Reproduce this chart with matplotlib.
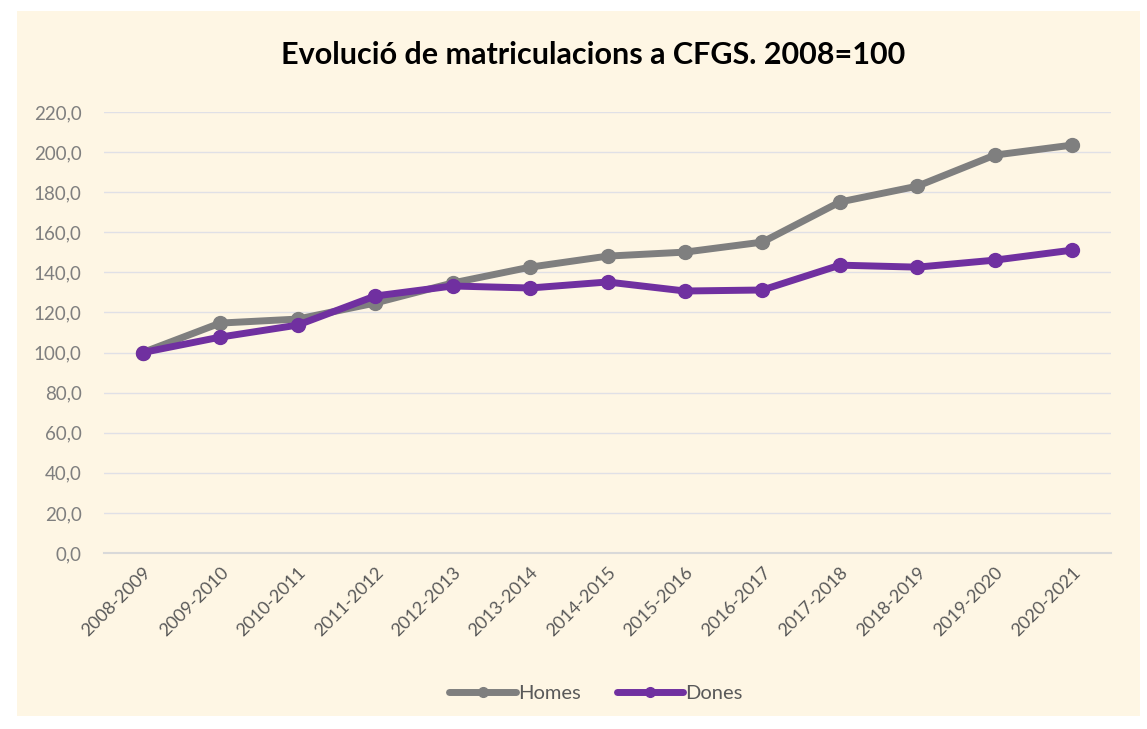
import matplotlib
matplotlib.use("Agg")
import matplotlib.pyplot as plt
from matplotlib.patches import Rectangle

# ---- data ----
CURSOS = ["2008-2009", "2009-2010", "2010-2011", "2011-2012", "2012-2013",
          "2013-2014", "2014-2015", "2015-2016", "2016-2017", "2017-2018",
          "2018-2019", "2019-2020", "2020-2021"]
HOMES = [100.0, 114.7, 116.7, 124.7, 134.7, 142.6, 148.1, 150.1, 155.1,
         175.1, 183.0, 198.5, 203.5]
DONES = [100.0, 107.7, 113.7, 128.2, 133.2, 132.2, 135.2, 130.7, 131.2,
         143.6, 142.6, 146.1, 151.1]
Y_TICKS = [0, 20, 40, 60, 80, 100, 120, 140, 160, 180, 200, 220]

# ---- palette ----
CREAM = "#fef6e4"
GREY_LINE = "#7f7f7f"
PURPLE = "#7030a0"
GRID = "#e0e0e6"
TEXT_DARK = "#000000"
TEXT_TICK = "#595959"
TEXT_YTICK = "#7f7f7f"

plt.rcParams.update({
    "font.family": ["Lato", "DejaVu Sans"],
})

fig = plt.figure(figsize=(11.47, 7.29), dpi=100)
fig.patch.set_facecolor("white")
# cream chart area inside a thin white border
fig.patches.append(Rectangle((17 / 1147, 1 - 716 / 729), (1140 - 17) / 1147, (716 - 11) / 729,
                             transform=fig.transFigure, facecolor=CREAM, edgecolor="none", zorder=-10))

ax = fig.add_axes([104 / 1147, 1 - 553 / 729, (1111 - 104) / 1147, (553 - 112) / 729])
ax.set_facecolor("none")
ax.set_zorder(1)

x = range(len(CURSOS))
ax.plot(x, HOMES, color=GREY_LINE, linewidth=5, marker="o", markersize=10,
        label="Homes", solid_capstyle="round", zorder=3)
ax.plot(x, DONES, color=PURPLE, linewidth=5, marker="o", markersize=10,
        label="Dones", solid_capstyle="round", zorder=4)

ax.set_xlim(-0.5, len(CURSOS) - 0.5)
ax.set_ylim(0, 220)
ax.set_yticks(Y_TICKS)
ax.set_yticklabels([f"{v:.1f}".replace(".", ",") for v in Y_TICKS], fontsize=13.5, color=TEXT_YTICK)
ax.set_xticks(list(x))
ax.set_xticklabels(CURSOS, rotation=45, ha="right", va="top", rotation_mode="anchor",
                   fontsize=13, color=TEXT_TICK)

for spine in ("top", "right", "left"):
    ax.spines[spine].set_visible(False)
ax.spines["bottom"].set_color("#d9d9d9")
ax.spines["bottom"].set_linewidth(1.5)
ax.tick_params(axis="both", length=0)
ax.tick_params(axis="y", pad=16)
ax.tick_params(axis="x", pad=8)
ax.grid(axis="y", color=GRID, linewidth=1.0)
ax.set_axisbelow(True)

fig.text(593 / 1147, 1 - 55 / 729, "Evolució de matriculacions a CFGS. 2008=100",
         ha="center", va="center", fontsize=22, fontweight="bold", color=TEXT_DARK)

leg = fig.legend(loc="center", bbox_to_anchor=(596 / 1147, 1 - 693 / 729), ncol=2,
                 frameon=False, fontsize=14.5, handlelength=3.3, handletextpad=0.1,
                 columnspacing=1.8, markerscale=0.7)
for t in leg.get_texts():
    t.set_color(TEXT_TICK)

fig.savefig("out.png", dpi=100, facecolor="white")
